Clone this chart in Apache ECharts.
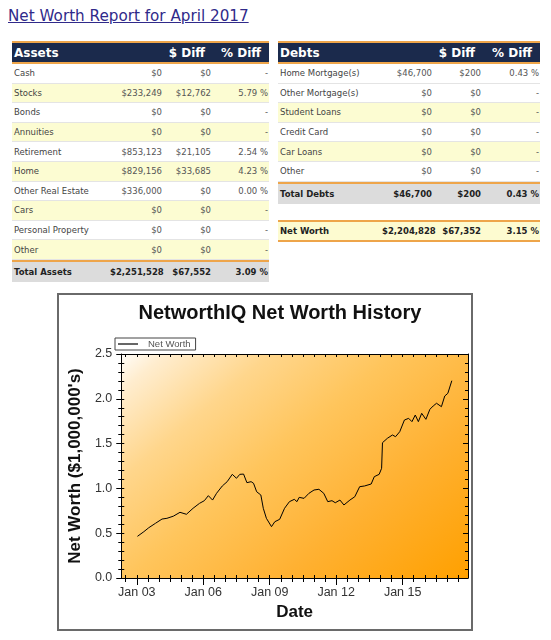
<!DOCTYPE html>
<html>
<head>
<meta charset="utf-8">
<script src="https://cdn.jsdelivr.net/npm/echarts@6/dist/echarts.min.js"></script>
<style>
  body { margin: 0; background: #fff; font-family: "DejaVu Sans", Verdana, sans-serif; }
  .report-title {
    position: absolute; left: 8px; top: 9px;
    font-size: 15.2px; line-height: 1; color: #302a8a; text-decoration: underline;
  }
  .tbl { position: absolute; }
  .row { display: flex; align-items: center; box-sizing: border-box; height: 19.6px;
         border-bottom: 1px solid #e4e4e4; font-size: 8.5px; color: #555; }
  .row.yellow { background: #fcfcd2; }
  .row .c { box-sizing: border-box; white-space: nowrap; overflow: visible; }
  .row .lab { color: #444; padding-left: 2px; }
  .row .num { text-align: right; padding-right: 2px; }
  .row .pct { text-align: right; padding-right: 1px; }
  .row.head { height: 23px; background: #1b2a4c; border-top: 2px solid #eea54a; border-bottom: 2px solid #eea54a;
          color: #fff; font-weight: bold; font-size: 12px; }
  .row.head .lab { color: #fff; }
  .row.head .num, .row.head .pct { padding-right: 8px; }
  .row.total { height: 22px; background: #dcdcdc; border-top: 2px solid #eea54a; border-bottom: none;
           font-weight: bold; color: #222; }
  .row.total .lab { color: #222; }
  .row.nw { height: 22px; background: #fdfbd0; border-top: 2px solid #eea54a; border-bottom: 2px solid #eea54a;
        font-weight: bold; color: #222; }
  .row.nw .lab { color: #222; }
  #chart { position: absolute; left: 57px; top: 293px; width: 416px; height: 338px;
           box-sizing: border-box; border: 2px solid #6a6a6a; }
</style>
</head>
<body>
<div class="report-title">Net Worth Report for April 2017</div>
<div id="assets" class="tbl" style="left:12px; top:41px; width:257px;"></div>
<div id="debts" class="tbl" style="left:278px; top:41px; width:262px;"></div>
<div id="chart"></div>
<script>
// ──── 表格数据 ────
const assetNames = ['Cash', 'Stocks', 'Bonds', 'Annuities', 'Retirement', 'Home', 'Other Real Estate', 'Cars', 'Personal Property', 'Other'];
const assetValues = ['$0', '$233,249', '$0', '$0', '$853,123', '$829,156', '$336,000', '$0', '$0', '$0'];
const assetDiffs = ['$0', '$12,762', '$0', '$0', '$21,105', '$33,685', '$0', '$0', '$0', '$0'];
const assetPcts = ['-', '5.79 %', '-', '-', '2.54 %', '4.23 %', '0.00 %', '-', '-', '-'];
const assetTotal = ['Total Assets', '$2,251,528', '$67,552', '3.09 %'];

const debtNames = ['Home Mortgage(s)', 'Other Mortgage(s)', 'Student Loans', 'Credit Card', 'Car Loans', 'Other'];
const debtValues = ['$46,700', '$0', '$0', '$0', '$0', '$0'];
const debtDiffs = ['$200', '$0', '$0', '$0', '$0', '$0'];
const debtPcts = ['0.43 %', '-', '-', '-', '-', '-'];
const debtTotal = ['Total Debts', '$46,700', '$200', '0.43 %'];
const netWorthRow = ['Net Worth', '$2,204,828', '$67,352', '3.15 %'];

// ──── 图表数据 (年份, 百万美元) ────
const dates = [
  2003.03, 2003.32, 2003.54, 2003.84, 2004.14, 2004.36, 2004.65, 2004.95, 2005.24, 2005.54,
  2005.83, 2006.05, 2006.23, 2006.42, 2006.60, 2006.86, 2007.08, 2007.31, 2007.50, 2007.65,
  2007.82, 2007.97, 2008.16, 2008.27, 2008.41, 2008.60, 2008.71, 2008.85, 2009.08, 2009.23,
  2009.45, 2009.67, 2009.89, 2010.11, 2010.23, 2010.33, 2010.55, 2010.77, 2011.00, 2011.22,
  2011.44, 2011.62, 2011.81, 2011.96, 2012.17, 2012.35, 2012.62, 2012.84, 2013.06, 2013.28,
  2013.58, 2013.72, 2013.94, 2014.05, 2014.09, 2014.31, 2014.54, 2014.68, 2014.87, 2015.08,
  2015.27, 2015.42, 2015.57, 2015.71, 2015.86, 2016.05, 2016.23, 2016.38, 2016.53, 2016.75,
  2016.90, 2017.04, 2017.22
];
const netWorth = [
  0.465, 0.517, 0.561, 0.610, 0.658, 0.666, 0.690, 0.733, 0.711, 0.778,
  0.833, 0.863, 0.919, 0.870, 0.945, 1.027, 1.075, 1.157, 1.113, 1.157,
  1.160, 1.064, 1.075, 1.057, 0.963, 0.926, 0.778, 0.666, 0.573, 0.628,
  0.655, 0.778, 0.852, 0.878, 0.852, 0.900, 0.889, 0.945, 0.982, 0.990,
  0.945, 0.852, 0.863, 0.840, 0.870, 0.815, 0.870, 0.907, 1.019, 1.027,
  1.049, 1.131, 1.157, 1.224, 1.510, 1.559, 1.596, 1.577, 1.633, 1.763,
  1.782, 1.745, 1.819, 1.745, 1.838, 1.771, 1.883, 1.920, 1.950, 1.912,
  2.031, 2.061, 2.202
];
const majorYears = [2003, 2006, 2009, 2012, 2015];
const yTicks = [0, 0.5, 1.0, 1.5, 2.0, 2.5];

// 半年刻度 / 0.1 刻度
const halfYears = [];
for (let y = 2002.5; y <= 2017.5; y += 0.5) halfYears.push(y);
const yTenths = [];
for (let i = 0; i <= 25; i++) yTenths.push(i / 10);

// ──── 表格渲染 ────
function rowCells(arr, widths) {
  return arr.map((t, i) => {
    const cls = i === 0 ? 'lab' : (i === 3 ? 'pct' : 'num');
    return `<div class="c ${cls}" style="width:${widths[i]}px">${t}</div>`;
  }).join('');
}

function buildTable(el, header, names, vals, diffs, pcts, total, widths, yellowFn) {
  let html = `<div class="row head">${rowCells(header, widths)}</div>`;
  names.forEach((n, i) => {
    html += `<div class="row${yellowFn(i) ? ' yellow' : ''}">${rowCells([n, vals[i], diffs[i], pcts[i]], widths)}</div>`;
  });
  html += `<div class="row total">${rowCells(total, widths)}</div>`;
  el.innerHTML = html;
}

const debtWidths = [104, 52, 49, 57];
buildTable(document.getElementById('assets'), ['Assets', '', '$ Diff', '% Diff'],
  assetNames, assetValues, assetDiffs, assetPcts, assetTotal, [98, 54, 49, 56], i => i % 2 === 1);
buildTable(document.getElementById('debts'), ['Debts', '', '$ Diff', '% Diff'],
  debtNames, debtValues, debtDiffs, debtPcts, debtTotal, debtWidths, i => i === 2 || i === 4);

// Net Worth 行
const nwDiv = document.createElement('div');
nwDiv.className = 'tbl';
nwDiv.style.cssText = 'left:278px; top:220px; width:262px;';
nwDiv.innerHTML = `<div class="row nw">${rowCells(netWorthRow, debtWidths)}</div>`;
document.body.appendChild(nwDiv);

// ──── 图表 ────
const FONT = '"Liberation Sans", Arial, sans-serif';
const chart = echarts.init(document.getElementById('chart'), null, { renderer: 'canvas' });
const X_MIN = 2002.3, X_MAX = 2017.95;
const lineBlack = { color: '#000', width: 1 };

function tickAxis(position, values, len, inside) {
  const isX = position === 'top' || position === 'bottom';
  const ax = {
    type: 'value', position,
    axisLine: { show: false },
    axisTick: { show: true, inside, customValues: values, length: len, lineStyle: lineBlack },
    axisLabel: { show: false }, splitLine: { show: false }
  };
  if (isX) { ax.min = X_MIN; ax.max = X_MAX; } else { ax.min = 0; ax.max = 2.5; }
  return ax;
}

chart.setOption({
  animation: false,
  backgroundColor: '#fff',
  graphic: [{
    type: 'text', x: 221, y: 18,
    style: {
      text: 'NetworthIQ Net Worth History', fill: '#111',
      font: `bold 20px ${FONT}`, textAlign: 'center', textVerticalAlign: 'middle'
    }
  }],
  legend: {
    data: ['Net Worth'], left: 56, top: 43,
    borderColor: '#444', borderWidth: 1, borderRadius: 0,
    padding: [1, 5, 1, 3], itemWidth: 20, itemHeight: 1.2, icon: 'rect',
    itemStyle: { color: '#000' },
    textStyle: { fontSize: 9.5, color: '#555', fontFamily: FONT, padding: [0, 0, 0, 5] }
  },
  grid: {
    left: 56, top: 59, width: 353, height: 224,
    show: true, borderWidth: 0,
    backgroundColor: {
      type: 'linear', global: true, x: 56, y: 59, x2: 311, y2: 365,
      colorStops: [
        { offset: 0, color: '#ffffff' }, { offset: 0.08, color: '#ffedcf' },
        { offset: 0.25, color: '#ffd68c' }, { offset: 0.45, color: '#ffc55c' },
        { offset: 0.7, color: '#ffb132' }, { offset: 1, color: '#ffa000' }
      ]
    }
  },
  xAxis: [
    {
      type: 'value', position: 'bottom', min: X_MIN, max: X_MAX,
      axisLine: { show: true, onZero: false, lineStyle: lineBlack },
      axisTick: { show: true, customValues: halfYears, length: 4, lineStyle: lineBlack },
      axisLabel: {
        customValues: majorYears, margin: 8, color: '#333', fontSize: 12.5, fontFamily: FONT,
        formatter: v => 'Jan ' + String(Math.round(v)).slice(2)
      },
      splitLine: { show: false },
      name: 'Date', nameLocation: 'middle', nameGap: 23,
      nameTextStyle: { fontWeight: 'bold', fontSize: 17, color: '#111', fontFamily: FONT }
    },
    tickAxis('bottom', majorYears, 7, false),
    tickAxis('bottom', halfYears, 3, true),
    Object.assign(tickAxis('top', halfYears, 3, true), { axisLine: { show: true, onZero: false, lineStyle: lineBlack } }),
    tickAxis('top', majorYears, 5, true)
  ],
  yAxis: [
    {
      type: 'value', position: 'left', min: 0, max: 2.5, interval: 0.5,
      axisLine: { show: true, onZero: false, lineStyle: lineBlack },
      axisTick: { show: true, length: 5, lineStyle: lineBlack },
      axisLabel: {
        margin: 9, color: '#333', fontSize: 12.5, fontFamily: FONT,
        formatter: v => yTicks.includes(v) ? v.toFixed(1) : ''
      },
      splitLine: { show: false },
      name: "Net Worth ($1,000,000's)", nameLocation: 'middle', nameGap: 33,
      nameTextStyle: { fontWeight: 'bold', fontSize: 17, color: '#111', fontFamily: FONT }
    },
    tickAxis('left', yTenths, 3, false),
    tickAxis('left', yTenths, 3, true),
    Object.assign(tickAxis('right', yTenths, 3, true), { axisLine: { show: true, onZero: false, lineStyle: lineBlack } }),
    tickAxis('right', yTicks, 5, true)
  ],
  series: [{
    name: 'Net Worth', type: 'line',
    xAxisIndex: 0, yAxisIndex: 0,
    data: dates.map((d, i) => [d, netWorth[i]]),
    symbol: 'none', smooth: false,
    lineStyle: { color: '#000', width: 1 },
    itemStyle: { color: '#000' }
  }]
});
</script>
</body>
</html>
